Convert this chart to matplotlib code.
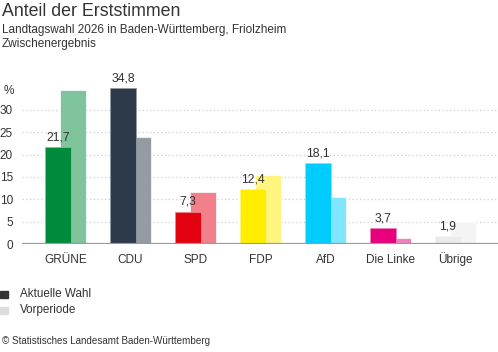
import matplotlib
matplotlib.use("Agg")
import matplotlib.pyplot as plt
from matplotlib.patches import Rectangle
from matplotlib.transforms import blended_transform_factory
import numpy as np

plt.rcParams['font.family'] = ['Liberation Sans', 'DejaVu Sans']

parties = ["GRÜNE", "CDU", "SPD", "FDP", "AfD", "Die Linke", "Übrige"]
current = [21.7, 34.8, 7.3, 12.4, 18.1, 3.7, 1.9]
previous = [34.4, 23.8, 11.6, 15.5, 10.6, 1.3, 5.0]
labels = ["21,7", "34,8", "7,3", "12,4", "18,1", "3,7", "1,9"]
colors_cur = ["#008A3C", "#2C3A4A", "#E3000F", "#FFED00", "#00CCFF", "#E6007E", "#EBEBEB"]
colors_prev = ["#7FC49D", "#959BA3", "#F1808A", "#FFF480", "#80E5FF", "#F07FBE", "#F4F4F4"]
yticks = [0, 5, 10, 15, 20, 25, 30]

W, H = 498, 352
fig = plt.figure(figsize=(W / 100, H / 100), dpi=100)

# axes in pixel coordinates
left, right, bottom, top = 22, 498, 244.3, 82.7
ax = fig.add_axes([left / W, 1 - bottom / H, (right - left) / W, (bottom - top) / H])
ax.set_ylim(0, 36)
ax.set_xlim((22 - 58) / 65, (498 - 58) / 65)

x = np.arange(len(parties))
bw = 0.4
off = 15 / 65

for yv in yticks[1:]:
    ax.axhline(yv, color="#cfcfcf", lw=0.9, ls=(0, (1, 2)), zorder=0)

ax.bar(x + off, previous, width=bw, color=colors_prev, edgecolor="white", linewidth=0.5, zorder=2)
ax.bar(x, current, width=bw, color=colors_cur, edgecolor=colors_prev, linewidth=0.6, zorder=3)

for xi, v, lab in zip(x, current, labels):
    ax.text(xi, v + 0.8, lab, ha="center", va="bottom", fontsize=8.8, color="#333333", zorder=4)

ax.axhline(0, color="#9a9a9a", lw=1.6, zorder=5)

for s in ax.spines.values():
    s.set_visible(False)
ax.set_yticks(yticks)
ax.set_yticklabels([str(t) for t in yticks])
ax.tick_params(axis="y", length=0, pad=6.5, labelsize=8.5, labelcolor="#333333")
ax.set_xticks([])

# category labels on a common baseline
trans = blended_transform_factory(ax.transData, fig.transFigure)
for xi, name in zip(x, parties):
    ax.text(xi + off / 2, 1 - 263 / H, name, transform=trans, ha="center", va="baseline",
            fontsize=8.5, color="#333333", clip_on=False)

fig.text(4 / W, 1 - 91 / H, "%", fontsize=8.5, color="#333333", va="center", ha="left")

fig.text(2 / W, 1 - 12 / H, "Anteil der Erststimmen", fontsize=12.8, color="#333333", va="center", ha="left")
fig.text(2 / W, 1 - 30 / H, "Landtagswahl 2026 in Baden-Württemberg, Friolzheim", fontsize=8.5, color="#333333", va="center", ha="left")
fig.text(2 / W, 1 - 44 / H, "Zwischenergebnis", fontsize=8.5, color="#333333", va="center", ha="left")

# legend
fig.patches.append(Rectangle((0, 1 - 297.5 / H), 8 / W, 7 / H, transform=fig.transFigure, color="#333333"))
fig.patches.append(Rectangle((0, 1 - 313.5 / H), 8 / W, 7 / H, transform=fig.transFigure, color="#dddddd"))
fig.text(20 / W, 1 - 294 / H, "Aktuelle Wahl", fontsize=8.4, color="#333333", va="center", ha="left")
fig.text(20 / W, 1 - 310 / H, "Vorperiode", fontsize=8.4, color="#333333", va="center", ha="left")

fig.text(2 / W, 1 - 341 / H, "© Statistisches Landesamt Baden-Württemberg", fontsize=7.1, color="#333333", va="center", ha="left")

fig.savefig("out.png", dpi=100)
